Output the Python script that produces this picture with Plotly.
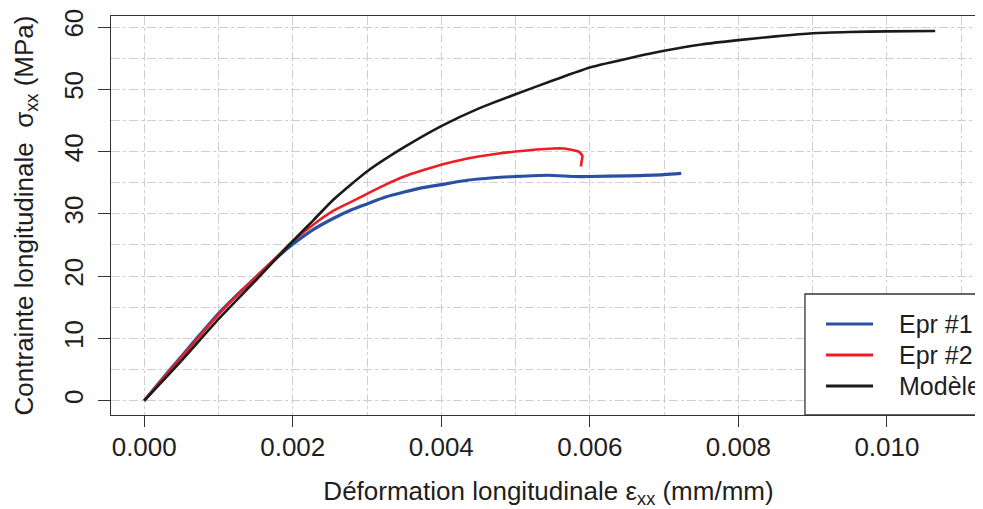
import plotly.graph_objects as go

# ---- data ----
epr1_x = [0, 0.00025, 0.0005, 0.00075, 0.001, 0.00125, 0.0015, 0.00175, 0.002, 0.00228,
          0.00255, 0.0028, 0.003, 0.00325, 0.0035, 0.00375, 0.004, 0.00435, 0.0047, 0.005,
          0.00543, 0.0058, 0.006, 0.0065, 0.007, 0.00723]
epr1_y = [0, 3.6, 7.1, 10.6, 14.0, 17.0, 19.8, 22.6, 25.1, 27.5,
          29.3, 30.7, 31.6, 32.7, 33.5, 34.2, 34.7, 35.4, 35.8, 36.0,
          36.2, 36.0, 36.0, 36.1, 36.3, 36.5]

epr2_x = [0, 0.00025, 0.0005, 0.00075, 0.001, 0.00125, 0.0015, 0.00175, 0.002, 0.00228,
          0.00255, 0.0028, 0.003, 0.00325, 0.0035, 0.00375, 0.004, 0.00425, 0.0045, 0.00475,
          0.005, 0.00525, 0.0055, 0.00565, 0.00575, 0.00585, 0.0059, 0.00589, 0.00588]
epr2_y = [0, 3.5, 6.9, 10.4, 13.8, 16.9, 19.8, 22.7, 25.6, 28.3,
          30.5, 32.0, 33.2, 34.7, 36.0, 37.0, 37.9, 38.6, 39.2, 39.65,
          40.0, 40.3, 40.5, 40.5, 40.3, 40.0, 39.3, 38.5, 37.6]

model_x = [0, 0.0005, 0.001, 0.0015, 0.002, 0.00228, 0.00255, 0.003, 0.0035, 0.004,
           0.0045, 0.005, 0.0055, 0.006, 0.0066, 0.007, 0.0075, 0.008, 0.0085, 0.009,
           0.0095, 0.010, 0.01065]
model_y = [0, 6.4, 13.1, 19.3, 25.6, 29.0, 32.3, 36.8, 40.7, 44.1,
           46.9, 49.2, 51.4, 53.5, 55.2, 56.2, 57.2, 57.9, 58.5, 59.0,
           59.2, 59.3, 59.35]

series_names = ["Epr #1", "Epr #2", "Modèle"]
series_colors = ["#2B4FA2", "#EE1D23", "#1A1A1A"]

x_ticks = [0.000, 0.002, 0.004, 0.006, 0.008, 0.010]
x_ticklabels = ["0.000", "0.002", "0.004", "0.006", "0.008", "0.010"]
y_ticks = [0, 10, 20, 30, 40, 50, 60]

FONT = "Liberation Sans, Arial, sans-serif"
GRID = "#cfcfcf"
AXC = "#333333"
TXT = "#1e1e1e"

fig = go.Figure()
for xs, ys, nm, col, w in [(epr1_x, epr1_y, series_names[0], series_colors[0], 3.2),
                           (epr2_x, epr2_y, series_names[1], series_colors[1], 2.6),
                           (model_x, model_y, series_names[2], series_colors[2], 2.6)]:
    fig.add_trace(go.Scatter(x=xs, y=ys, mode="lines", name=nm, showlegend=False,
                             line=dict(color=col, width=w, shape="spline", smoothing=0.6)))

# ---- legend box drawn in paper coordinates (R-style legend, right side cropped like the reference) ----
lg_x0, lg_x1, lg_y0, lg_y1 = 0.7931, 1.0, 0.0, 0.3033
fig.add_shape(type="rect", xref="paper", yref="paper", x0=lg_x0, x1=lg_x1, y0=lg_y0, y1=lg_y1,
              line=dict(color=AXC, width=1.3), fillcolor="white", layer="above")
row_y = [0.2281, 0.1504, 0.0727]
for nm, col, yy in zip(series_names, series_colors, row_y):
    fig.add_shape(type="line", xref="paper", yref="paper", x0=0.8171, x1=0.8709, y0=yy, y1=yy,
                  line=dict(color=col, width=3), layer="above")
    fig.add_annotation(xref="paper", yref="paper", x=0.8983, y=yy, text=nm, showarrow=False,
                       xanchor="left", yanchor="middle", font=dict(size=25, color=TXT, family=FONT))

# the page body adds an 8px offset; the plot box runs just past the right edge as in the reference
fig.update_layout(
    width=980, height=501,
    margin=dict(l=103, r=2, t=8, b=94),
    paper_bgcolor="white", plot_bgcolor="white",
    font=dict(family=FONT, size=26, color=TXT),
    showlegend=False,
    xaxis=dict(
        range=[-0.000447, 0.011334],
        tickvals=x_ticks, ticktext=x_ticklabels,
        ticks="outside", ticklen=11, tickcolor=AXC, tickwidth=1,
        ticklabelstandoff=-2, automargin=False,
        showline=True, mirror=True, linecolor=AXC, linewidth=1.3,
        showgrid=True, gridcolor=GRID, griddash="dashdot", gridwidth=1,
        zeroline=False,
        minor=dict(dtick=0.001, tick0=0, showgrid=True, gridcolor=GRID,
                   griddash="dashdot", gridwidth=1, ticks=""),
        title=dict(text="Déformation longitudinale ε<sub>xx</sub> (mm/mm)",
                   font=dict(size=26), standoff=20),
    ),
    yaxis=dict(
        range=[-2.3, 61.77],
        tickvals=y_ticks,
        tickangle=-90,
        ticks="outside", ticklen=12, tickcolor=AXC, tickwidth=1,
        ticklabelstandoff=4, automargin=False,
        showline=True, mirror=True, linecolor=AXC, linewidth=1.3,
        showgrid=True, gridcolor=GRID, griddash="dashdot", gridwidth=1,
        zeroline=False,
        minor=dict(dtick=5, tick0=0, showgrid=True, gridcolor=GRID,
                   griddash="dashdot", gridwidth=1, ticks=""),
        title=dict(text="Contrainte longitudinale\u00a0\u00a0σ<sub>xx</sub> (MPa)",
                   font=dict(size=26), standoff=18),
    ),
)

fig.write_html("out.html")
